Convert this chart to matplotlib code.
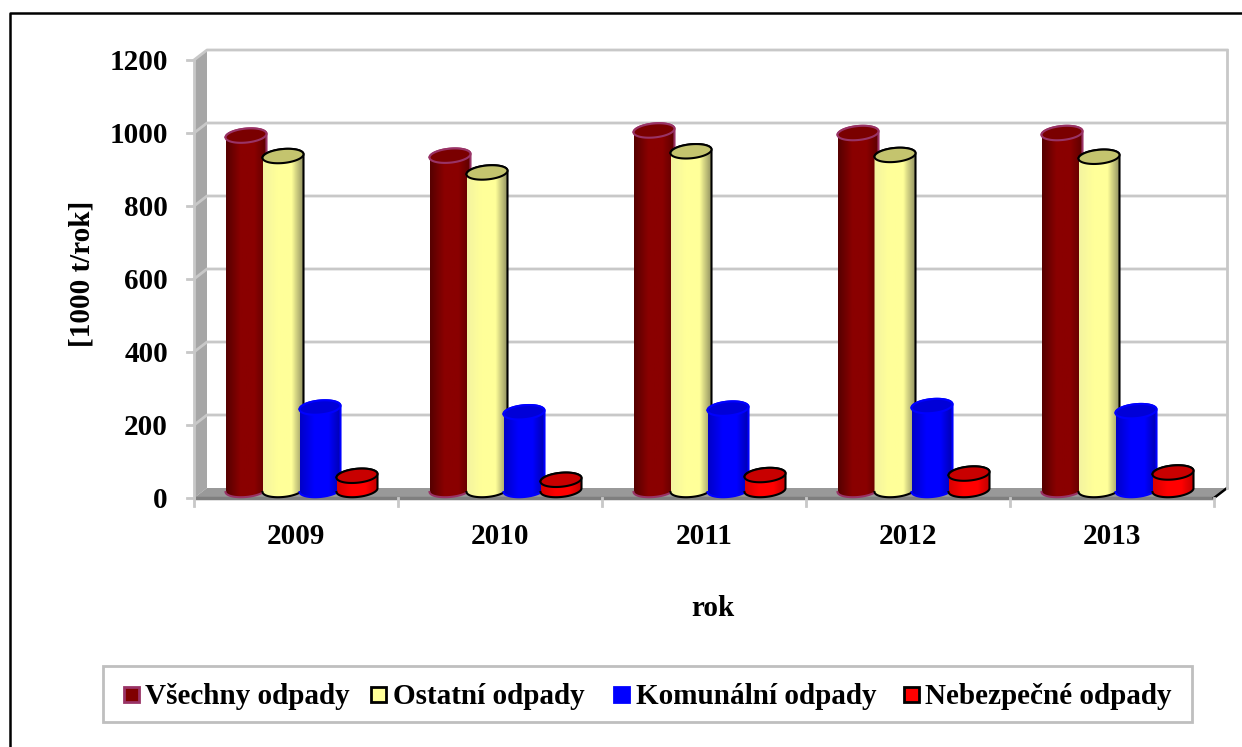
import matplotlib
matplotlib.use("Agg")
import matplotlib.pyplot as plt
from matplotlib.colors import LinearSegmentedColormap
from matplotlib.lines import Line2D
from matplotlib.patches import Polygon, PathPatch, Rectangle
from matplotlib.path import Path
import numpy as np

plt.rcParams["font.family"] = ["Liberation Serif", "DejaVu Serif"]
plt.rcParams["font.weight"] = "bold"

years = ["2009", "2010", "2011", "2012", "2013"]
names = ["Všechny odpady", "Ostatní odpady", "Komunální odpady", "Nebezpečné odpady"]
vsechny = [971, 916, 985, 978, 978]
ostatni = [915, 870, 928, 918, 913]
komunalni = [226, 213, 223, 230, 216]
nebezpecne = [39, 28, 41, 45, 48]
series = [vsechny, ostatni, komunalni, nebezpecne]

# shading of the cylinders: edge, middle, edge, plus top and outline
body_left = ["#560000", "#f4f4a0", "#0000c8", "#d80000"]
body_light = ["#8a0000", "#ffff99", "#0000ff", "#ff0000"]
body_right = ["#5c0000", "#8f8f60", "#0000b0", "#c00000"]
top_col = ["#7a0000", "#c4c46e", "#0000d8", "#c80000"]
line_col = ["#993366", "black", "#0000ff", "black"]
legend_fill = ["#800000", "#ffff99", "#0000ff", "#ff0000"]

W, H = 1242, 747
fig = plt.figure(figsize=(W / 100, H / 100), dpi=100)
fig.patch.set_facecolor("white")
# the frame only shows on the left and on top, the rest is cut off
fig.add_artist(Line2D([10 / W, 10 / W, 1], [0, 1 - 13 / H, 1 - 13 / H], transform=fig.transFigure,
                      color="black", lw=1.8))

# front plane of the 3d box
left, right, y0, y1 = 194, 1214, 498, 60
ax = fig.add_axes([left / W, 1 - y0 / H, (right - left) / W, (y0 - y1) / H])
ax.set_xlim(0, 5)
ax.set_ylim(0, 1200)
ax.axis("off")

# depth of the box, in data units
px_x = 5 / (right - left)
px_y = 1200 / (y0 - y1)
dx, dy = 13 * px_x, 10 * px_y
ticks = np.arange(0, 1201, 200)
grid = "#c8c8c8"

ax.add_patch(Polygon([(0, 0), (dx, dy), (dx, 1200 + dy), (0, 1200)], fc="#a6a6a6", ec="none", clip_on=False))
ax.add_patch(Polygon([(0, 0), (dx, dy), (5 + dx, dy), (5, 0)], fc="#999999", ec="none", clip_on=False))
ax.plot([0, 5], [0, 0], color="#7f7f7f", lw=2.5, clip_on=False, solid_capstyle="butt")
ax.plot([5, 5 + dx], [0, dy], color="black", lw=1.8, clip_on=False)
ax.plot([5 + dx, 5 + dx], [dy, 1200 + dy], color=grid, lw=2, clip_on=False)
ax.plot([0, 0], [0, 1200], color=grid, lw=2, clip_on=False)
for t in ticks[1:]:
    ax.plot([0, dx, 5 + dx], [t, t + dy, t + dy], color=grid, lw=2, clip_on=False)
for t in ticks:
    ax.plot([-7 * px_x, 0], [t, t], color=grid, lw=2, clip_on=False)
    ax.text(-26 * px_x, t - 2.5 * px_y, str(t), ha="right", va="center", fontsize=21)
for i in range(6):
    ax.plot([i, i], [0, -8 * px_y], color=grid, lw=2, clip_on=False)
for i, y in enumerate(years):
    ax.text(i + 0.5, -25 * px_y, y, ha="center", va="top", fontsize=21)

# cylinders
half_w = 20.5 * px_x
half_h = 7 * px_y
tilt = 1.8 * px_y
step = 37 * px_x
first = 0.5 + 5.5 * px_x - 1.5 * step
t = np.linspace(0, 2 * np.pi, 80)

for s, vals in enumerate(series):
    cmap = LinearSegmentedColormap.from_list(
        "c", [(0, body_left[s]), (0.35, body_light[s]), (0.7, body_light[s]), (1, body_right[s])])
    for c, v in enumerate(vals):
        cx = c + first + s * step
        base = 8 * px_y
        top = base + v
        ex = half_w * np.cos(t)
        ey = half_h * np.sin(t) + tilt * np.cos(t)
        low = t[(t >= np.pi) & (t <= 2 * np.pi)]
        up = t[t <= np.pi]
        xs = np.r_[cx + half_w * np.cos(low), cx + half_w * np.cos(up)]
        ys = np.r_[base + half_h * np.sin(low) + tilt * np.cos(low), top + half_h * np.sin(up) + tilt * np.cos(up)]
        body = Path(np.c_[xs, ys])
        im = ax.imshow(np.linspace(0, 1, 64).reshape(1, -1), cmap=cmap, aspect="auto",
                       extent=[cx - half_w, cx + half_w, 0, top + half_h], zorder=3 + s + c * 5)
        patch = PathPatch(body, transform=ax.transData, fc="none", ec="none")
        ax.add_patch(patch)
        im.set_clip_path(patch)
        ax.plot(xs, ys, color=line_col[s], lw=1.5, zorder=3.1 + s + c * 5, clip_on=False)
        ax.fill(cx + ex, top + ey, fc=top_col[s], ec=line_col[s], lw=1.5, zorder=3.2 + s + c * 5, clip_on=False)
ax.set_xlim(0, 5)
ax.set_ylim(0, 1200)

fig.text(82 / W, 1 - 274 / H, "[1000 t/rok]", rotation=90, ha="center", va="center", fontsize=21)
fig.text(713 / W, 1 - 609 / H, "rok", ha="center", va="center", fontsize=21)

# legend
fig.add_artist(Rectangle((103 / W, 1 - 722 / H), 1089 / W, 56 / H, transform=fig.transFigure,
                         fc="white", ec="#bfbfbf", lw=2))
marks = [124, 371, 613.5, 904]
labels_x = [145, 393, 636, 925]
for s, n in enumerate(names):
    fig.add_artist(Rectangle((marks[s] / W, 1 - 702 / H), 15 / W, 15 / H, transform=fig.transFigure,
                             fc=legend_fill[s], ec=line_col[s], lw=2))
    fig.text(labels_x[s] / W, 1 - 696 / H, n, ha="left", va="center", fontsize=21)

fig.savefig("out.png", dpi=100)
